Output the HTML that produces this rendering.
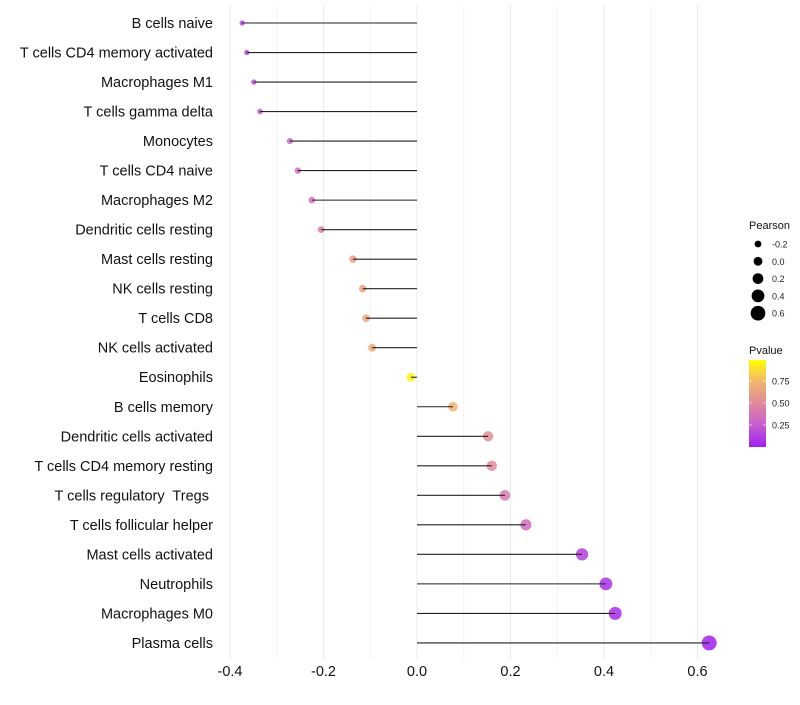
<!DOCTYPE html>
<html><head><meta charset="utf-8"><style>
body{margin:0;background:#fff;font-family:"Liberation Sans",sans-serif}
text{white-space:pre}
</style></head><body>
<svg id="chart" width="800" height="700" xmlns="http://www.w3.org/2000/svg" style="font-family:'Liberation Sans',sans-serif"></svg>
<script>
const categories=["B cells naive","T cells CD4 memory activated","Macrophages M1","T cells gamma delta","Monocytes","T cells CD4 naive","Macrophages M2","Dendritic cells resting","Mast cells resting","NK cells resting","T cells CD8","NK cells activated","Eosinophils","B cells memory","Dendritic cells activated","T cells CD4 memory resting","T cells regulatory  Tregs ","T cells follicular helper","Mast cells activated","Neutrophils","Macrophages M0","Plasma cells"];
const pearson=[-0.374,-0.364,-0.349,-0.336,-0.272,-0.255,-0.225,-0.205,-0.137,-0.116,-0.109,-0.096,-0.013,0.077,0.152,0.160,0.188,0.233,0.353,0.404,0.424,0.625];
const pvalue=[0.15,0.15,0.2,0.22,0.32,0.33,0.38,0.45,0.62,0.64,0.66,0.7,0.97,0.74,0.52,0.5,0.42,0.33,0.12,0.07,0.05,0.002];
const xTicks=[-0.4,-0.2,0,0.2,0.4,0.6];
const xTickLabels=["-0.4","-0.2","0.0","0.2","0.4","0.6"];
const sizeLegend=[-0.2,0,0.2,0.4,0.6];
const colorTicks=[0.25,0.5,0.75];

const svg=document.getElementById('chart');
const NS="http://www.w3.org/2000/svg";
const x=v=>417+v*467.5;
const y=i=>23+i*29.52;
const rad=v=>2.6+(v+0.37)*4.9;
const stops=[[0,[160,32,240]],[0.25,[197,94,208]],[0.5,[224,137,155]],[0.75,[242,181,111]],[1,[255,255,0]]];
function col(p){for(let k=0;k<stops.length-1;k++){const a=stops[k],b=stops[k+1];if(p<=b[0]){const t=(p-a[0])/(b[0]-a[0]);const c=a[1].map((v,j)=>Math.round(v+(b[1][j]-v)*t));return `rgb(${c})`;}}return 'rgb(255,255,0)';}
function el(t,a,txt){const e=document.createElementNS(NS,t);for(const k in a)e.setAttribute(k,a[k]);if(txt!==undefined)e.textContent=txt;svg.appendChild(e);return e;}

for(let v=-0.4;v<=0.65;v+=0.1){const g=el('line',{x1:x(v),x2:x(v),y1:5,y2:660,stroke:Math.abs(Math.round(v*10))%2==0?'#ebebeb':'#f3f3f3','stroke-width':1});

}
xTicks.forEach((v,i)=>{const t=el('text',{x:x(v),y:676,'text-anchor':'middle','font-size':14.5,fill:'#111'},xTickLabels[i]);

});

categories.forEach((c,i)=>{
 const l=el('text',{x:213,y:y(i)+5,'text-anchor':'end','font-size':14.5,fill:'#111'},c);
 
 
 const d=el('circle',{cx:x(pearson[i]),cy:y(i),r:rad(pearson[i]),fill:col(pvalue[i]),'fill-opacity':0.85});
 
 
 const s=el('line',{x1:x(0),x2:x(pearson[i]),y1:y(i),y2:y(i),stroke:'#222','stroke-width':1.1});
 
 
});

const lt=el('text',{x:749,y:229,'font-size':11,fill:'#111'},'Pearson');


sizeLegend.forEach((v,i)=>{const cy=244+i*17.3;
 const c=el('circle',{cx:758,cy:cy,r:rad(v),fill:'#000'});
 
 
 const t=el('text',{x:772,y:cy+3.5,'font-size':9,fill:'#222'},v.toFixed(1));
 
 });

const ct=el('text',{x:749,y:354,'font-size':11,fill:'#111'},'Pvalue');


const defs=el('defs',{});
const lg=document.createElementNS(NS,'linearGradient');lg.setAttribute('id','pg');lg.setAttribute('x1','0');lg.setAttribute('y1','1');lg.setAttribute('x2','0');lg.setAttribute('y2','0');
stops.forEach(s=>{const st=document.createElementNS(NS,'stop');st.setAttribute('offset',s[0]);st.setAttribute('stop-color',`rgb(${s[1]})`);lg.appendChild(st);});
defs.appendChild(lg);
const bar=el('rect',{x:749,y:360,width:17,height:87,fill:'url(#pg)'});


colorTicks.forEach(v=>{const cy=447-v*88;
 el('line',{x1:749,x2:752,y1:cy,y2:cy,stroke:'#fff','stroke-opacity':0.6});
 el('line',{x1:763,x2:766,y1:cy,y2:cy,stroke:'#fff','stroke-opacity':0.6});
 const t=el('text',{x:772,y:cy+3.5,'font-size':9,fill:'#222'},v.toFixed(2));
 
 });
</script>
</body></html>
